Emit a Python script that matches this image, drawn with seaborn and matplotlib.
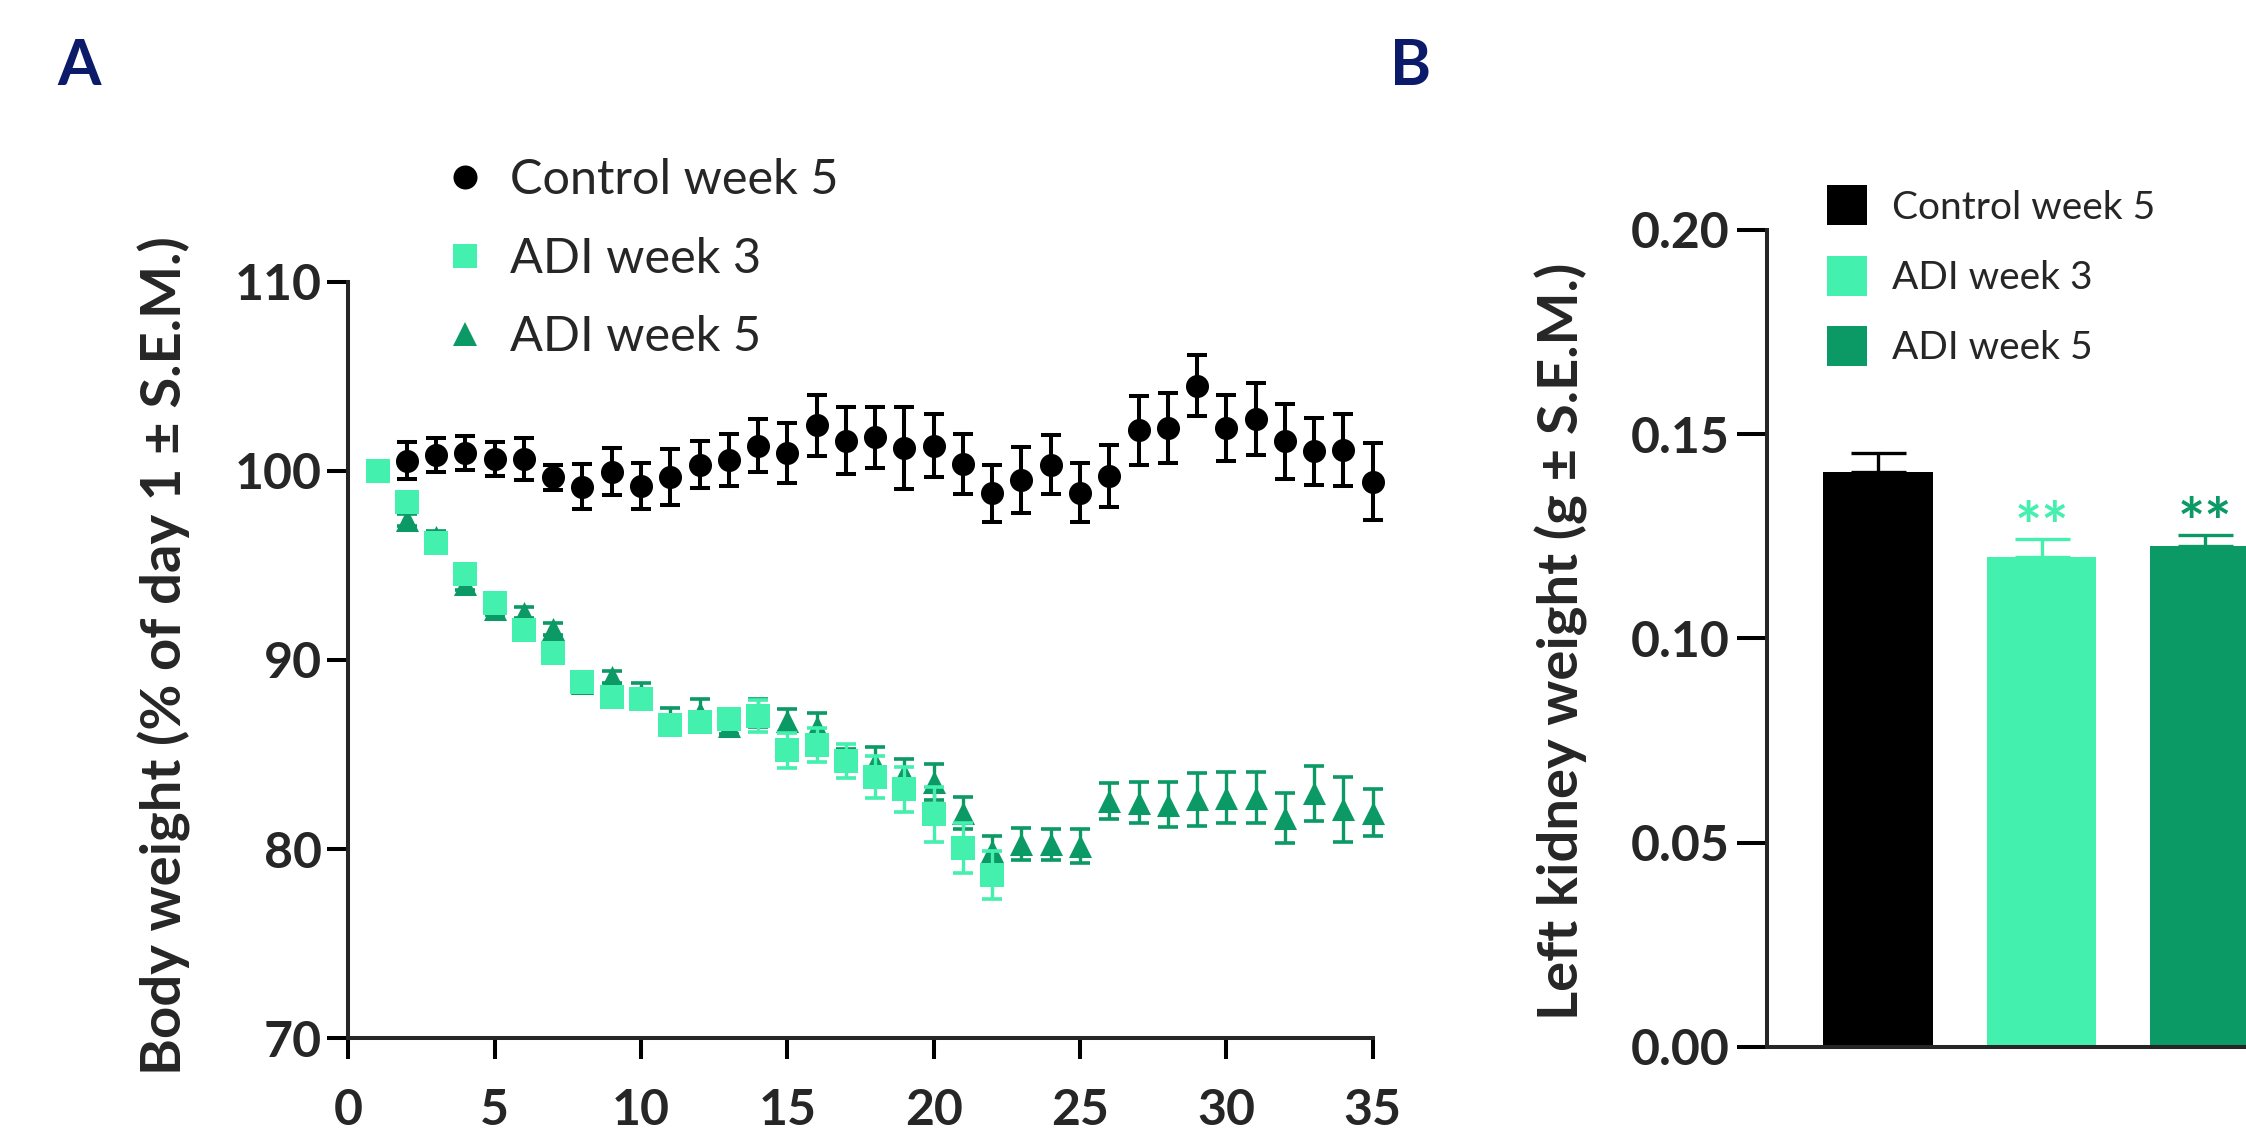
import matplotlib
matplotlib.use("Agg")
import matplotlib.pyplot as plt
from matplotlib.lines import Line2D
import numpy as np
import pandas as pd
import seaborn as sns

# ---------------- data ----------------
days = list(range(1, 36))
control_mean = [100.0, 100.53, 100.85, 100.94, 100.64, 100.62, 99.66, 99.17, 99.96, 99.2,
                99.66, 100.32, 100.58, 101.33, 100.94, 102.41, 101.6, 101.77, 101.2, 101.34,
                100.35, 98.82, 99.52, 100.32, 98.85, 99.75, 102.14, 102.26, 104.5, 102.26,
                102.74, 101.56, 101.03, 101.11, 99.43]
control_sem = [0.0, 0.97, 0.9, 0.9, 0.9, 1.1, 0.65, 1.2, 1.25, 1.2,
               1.47, 1.25, 1.37, 1.4, 1.6, 1.6, 1.75, 1.6, 2.15, 1.67,
               1.6, 1.5, 1.75, 1.56, 1.56, 1.64, 1.83, 1.86, 1.6, 1.75,
               1.88, 2.0, 1.77, 1.9, 2.03]

adi3_days = list(range(1, 23))
adi3_mean = [100.0, 98.37, 96.16, 94.53, 93.01, 91.61, 90.36, 88.82, 88.05, 87.95,
             86.58, 86.72, 86.9, 87.05, 85.22, 85.49, 84.66, 83.81, 83.17, 81.84,
             80.07, 78.64]
adi3_sem = [0.0, 0.3, 0.3, 0.3, 0.3, 0.3, 0.3, 0.3, 0.4, 0.4,
            0.4, 0.45, 0.35, 0.85, 0.93, 0.9, 0.9, 1.1, 1.18, 1.46,
            1.33, 1.27]

adi5_days = list(range(1, 36))
adi5_mean = [100.0, 97.4, 96.5, 94.0, 92.7, 92.5, 91.64, 88.8, 89.1, 88.2,
             86.8, 87.2, 86.5, 87.2, 86.8, 86.46, 84.8, 84.57, 83.99, 83.54,
             81.9, 79.92, 80.25, 80.25, 80.18, 82.57, 82.46, 82.36, 82.64, 82.73,
             82.73, 81.65, 82.96, 82.1, 81.93]
adi5_sem = [0.0, 0.3, 0.3, 0.3, 0.3, 0.3, 0.3, 0.3, 0.3, 0.6,
            0.67, 0.75, 0.4, 0.75, 0.6, 0.75, 0.5, 0.85, 0.76, 0.95,
            0.85, 0.75, 0.85, 0.8, 0.9, 0.95, 1.1, 1.2, 1.4, 1.37,
            1.35, 1.3, 1.45, 1.7, 1.25]

groups = ["Control week 5", "ADI week 3", "ADI week 5"]
kidney_mean = [0.1407, 0.1200, 0.1226]
kidney_sem = [0.0048, 0.0043, 0.0028]
kidney_sig = ["", "**", "**"]

xticks_a = [0, 5, 10, 15, 20, 25, 30, 35]
yticks_a = [70, 80, 90, 100, 110]
yticks_b = [0.00, 0.05, 0.10, 0.15, 0.20]

ylabel_a = "Body weight (% of day 1 \u00b1 S.E.M.)"
ylabel_b = "Left kidney weight (g \u00b1 S.E.M.)"

# ---------------- style ----------------
BLACK = "#000000"
LIGHT = "#43F0AE"
DARK = "#0B9965"
NAVY = "#0B1B6A"
colors = [BLACK, LIGHT, DARK]

sns.set_style("ticks")
plt.rcParams["font.family"] = ["Lato", "DejaVu Sans"]
plt.rcParams["axes.linewidth"] = 2.9

W, H = 2246, 1136
fig = plt.figure(figsize=(W / 100, H / 100), dpi=100)

# ---------------- panel A ----------------
axA = fig.add_axes([348.3 / W, 1 - 1038.3 / H, 1024.4 / W, 756.6 / H])
axA.set_xlim(0, 35)
axA.set_ylim(70, 110)

ms = 16.6
cap = 7.2
# Control (circles) - lowest layer
axA.errorbar(days, control_mean, yerr=control_sem, fmt="none", ecolor=BLACK,
             elinewidth=2.9, capsize=cap, capthick=2.9, zorder=3, clip_on=False)
sns.scatterplot(x=days, y=control_mean, marker="o", color=BLACK, s=ms ** 2,
                linewidth=0, ax=axA, zorder=4, clip_on=False)
# ADI week 5 (triangles)
axA.errorbar(adi5_days, adi5_mean, yerr=adi5_sem, fmt="none", ecolor=DARK,
             elinewidth=2.4, capsize=cap, capthick=2.6, zorder=5, clip_on=False)
sns.scatterplot(x=adi5_days, y=adi5_mean, marker="^", color=DARK, s=ms ** 2,
                linewidth=0, ax=axA, zorder=6, clip_on=False)
# ADI week 3 (squares) - on top
axA.errorbar(adi3_days, adi3_mean, yerr=adi3_sem, fmt="none", ecolor=LIGHT,
             elinewidth=2.4, capsize=cap, capthick=2.6, zorder=7, clip_on=False)
sns.scatterplot(x=adi3_days, y=adi3_mean, marker="s", color=LIGHT, s=ms ** 2,
                linewidth=0, ax=axA, zorder=8, clip_on=False)

axA.set_xticks(xticks_a)
axA.set_yticks(yticks_a)
axA.set_xticklabels([str(v) for v in xticks_a], fontsize=36, fontweight="bold")
axA.set_yticklabels([str(v) for v in yticks_a], fontsize=36, fontweight="bold")
axA.tick_params(axis="both", direction="out", length=15, width=2.9, color="black")
axA.tick_params(axis="x", pad=21)
axA.tick_params(axis="y", pad=4)
sns.despine(ax=axA)
axA.set_ylabel(ylabel_a, fontsize=40.5, fontweight="bold", va="center")
axA.yaxis.set_label_coords(164 / W, 1 - 656 / H, transform=fig.transFigure)
axA.set_xlabel("")

handlesA = [
    Line2D([], [], marker="o", ls="none", color=BLACK, markersize=17.3, markeredgewidth=0),
    Line2D([], [], marker="s", ls="none", color=LIGHT, markersize=17.3, markeredgewidth=0),
    Line2D([], [], marker="^", ls="none", color=DARK, markersize=17.3, markeredgewidth=0),
]
axA.legend(handlesA, groups, loc="upper left", bbox_to_anchor=(445.5 / W, 1 - 158 / H),
           bbox_transform=fig.transFigure, frameon=False, fontsize=35,
           handlelength=0.8, handletextpad=0.525, labelspacing=0.71,
           borderpad=0, borderaxespad=0)

# ---------------- panel B ----------------
step = 163.75
x0 = 1766.7
xmin, xmax = -0.6785, 2.6
axB = fig.add_axes([x0 / W, 1 - 1046.7 / H, (xmax - xmin) * step / W, (1046.7 - 230) / H])
dfB = pd.DataFrame({"group": groups, "weight": kidney_mean})
sns.barplot(data=dfB, x="group", y="weight", hue="group", palette=colors,
            order=groups, hue_order=groups, width=0.67, saturation=1,
            legend=False, ax=axB, linewidth=0, errorbar=None)
for i, (m, s, c) in enumerate(zip(kidney_mean, kidney_sem, colors)):
    axB.errorbar([i], [m], yerr=[[0], [s]], fmt="none", ecolor=c,
                 elinewidth=2.4, capsize=19.8, capthick=2.4, zorder=5)
    if kidney_sig[i]:
        axB.text(i, m + s + 0.0021, kidney_sig[i], color=c, ha="center", va="center",
                 fontsize=46, fontweight="bold")
axB.set_xlim(xmin, xmax)
axB.set_ylim(0, 0.20)
axB.set_xticks([])
axB.set_yticks(yticks_b)
axB.set_yticklabels(["%.2f" % v for v in yticks_b], fontsize=36, fontweight="bold")
axB.tick_params(axis="y", direction="out", length=21.6, width=2.9, pad=5, color="black")
sns.despine(ax=axB)
axB.set_xlabel("")
axB.set_ylabel(ylabel_b, fontsize=40.5, fontweight="bold", va="center")
axB.yaxis.set_label_coords(1561 / W, 1 - 641.6 / H, transform=fig.transFigure)

handlesB = [Line2D([], [], marker="s", ls="none", color=c, markersize=29.5, markeredgewidth=0)
            for c in colors]
axB.legend(handlesB, groups, loc="upper left", bbox_to_anchor=(1825.6 / W, 1 - 190 / H),
           bbox_transform=fig.transFigure, frameon=False, fontsize=28,
           handlelength=1.1, handletextpad=0.607, labelspacing=0.88,
           borderpad=0, borderaxespad=0)

# ---------------- panel letters ----------------
fig.text(79 / W, 1 - 85 / H, "A", ha="center", va="baseline", fontsize=45,
         fontweight="bold", color=NAVY)
fig.text(1411 / W, 1 - 85 / H, "B", ha="center", va="baseline", fontsize=45,
         fontweight="bold", color=NAVY)

fig.savefig("out.png", dpi=100)
